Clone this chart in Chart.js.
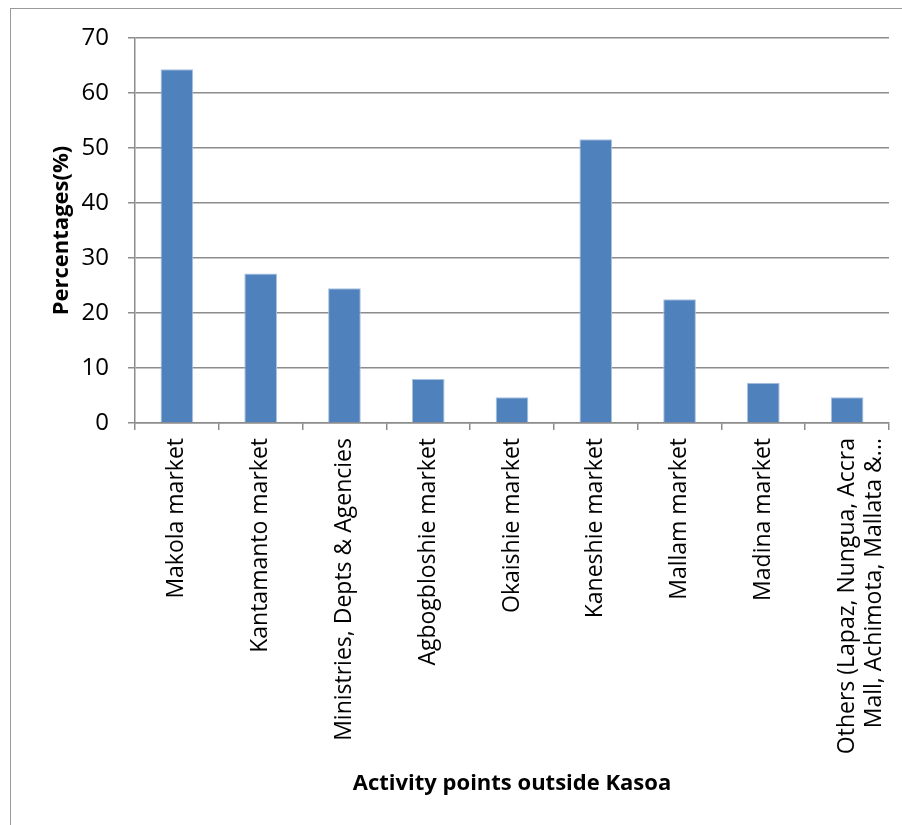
<!DOCTYPE html>
<html>
<head>
<meta charset="utf-8">
<script src="https://cdn.jsdelivr.net/npm/chart.js@4"></script>
<style>
    body { margin: 0; background: #fff; }
    #wrap { position: relative; width: 902px; height: 825px; overflow: hidden; }
    #frame { position: absolute; left: 10px; top: 8px; width: 1000px; height: 1000px;
             border-left: 1px solid #9a9a9a; border-top: 1px solid #9a9a9a; }
    #chart { position: absolute; left: 0; top: 0; }
</style>
</head>
<body>
<div id="wrap">
    <div id="frame"></div>
    <canvas id="chart" width="902" height="825"></canvas>
</div>
<script>
// Activity points outside Kasoa
const categories = [
    'Makola market',
    'Kantamanto market',
    'Ministries, Depts & Agencies',
    'Agbogbloshie market',
    'Okaishie market',
    'Kaneshie market',
    'Mallam market',
    'Madina market',
    ['Others (Lapaz, Nungua, Accra', 'Mall, Achimota, Mallata &...']
];
const percentages = [64.3, 27.2, 24.5, 8.0, 4.7, 51.6, 22.5, 7.3, 4.7];
const yTicks = [0, 10, 20, 30, 40, 50, 60, 70];

const fontFamily = '"Open Sans", "Liberation Sans", sans-serif';
const gridColor = '#8c8c8c';

function renderChart() {
    const ctx = document.getElementById('chart').getContext('2d');
    new Chart(ctx, {
        type: 'bar',
        data: {
            labels: categories,
            datasets: [{
                label: 'Percentages(%)',
                data: percentages,
                backgroundColor: '#4f81bd',
                borderColor: '#a9c2e2',
                borderWidth: 1,
                borderSkipped: 'bottom',
                barPercentage: 0.39,
                categoryPercentage: 1
            }]
        },
        options: {
            responsive: false,
            animation: false,
            layout: { padding: { top: 38, right: 13, left: 0, bottom: 0 } },
            plugins: {
                legend: { display: false },
                tooltip: { enabled: false }
            },
            scales: {
                x: {
                    grid: {
                        offset: true,
                        drawOnChartArea: false,
                        drawTicks: true,
                        tickLength: 7,
                        color: gridColor,
                        lineWidth: 1.5
                    },
                    border: { color: gridColor, width: 1.5 },
                    ticks: {
                        autoSkip: false,
                        minRotation: 90,
                        maxRotation: 90,
                        padding: 8,
                        color: '#000',
                        font: { family: fontFamily, size: 23 }
                    },
                    title: {
                        display: true,
                        text: 'Activity points outside Kasoa',
                        color: '#000',
                        padding: { top: 0, bottom: 28 },
                        font: { family: fontFamily, size: 22, weight: 'bold' }
                    },
                    afterFit: function(scale) {
                        scale.height = 825 - 423;
                        scale.paddingLeft = 0;
                        scale.paddingRight = 0;
                    }
                },
                y: {
                    min: 0,
                    max: 70,
                    afterBuildTicks: function(scale) {
                        scale.ticks = yTicks.map(v => ({ value: v }));
                    },
                    grid: {
                        color: gridColor,
                        lineWidth: 1.5,
                        tickLength: 7
                    },
                    border: { color: gridColor, width: 1.5 },
                    ticks: {
                        padding: 19,
                        color: '#000',
                        font: { family: fontFamily, size: 24 }
                    },
                    title: {
                        display: true,
                        text: 'Percentages(%)',
                        color: '#000',
                        padding: { top: 49, bottom: 0 },
                        font: { family: fontFamily, size: 22, weight: 'bold' }
                    },
                    afterFit: function(scale) { scale.width = 135; }
                }
            }
        }
    });
}

window.onload = renderChart;
</script>
</body>
</html>
